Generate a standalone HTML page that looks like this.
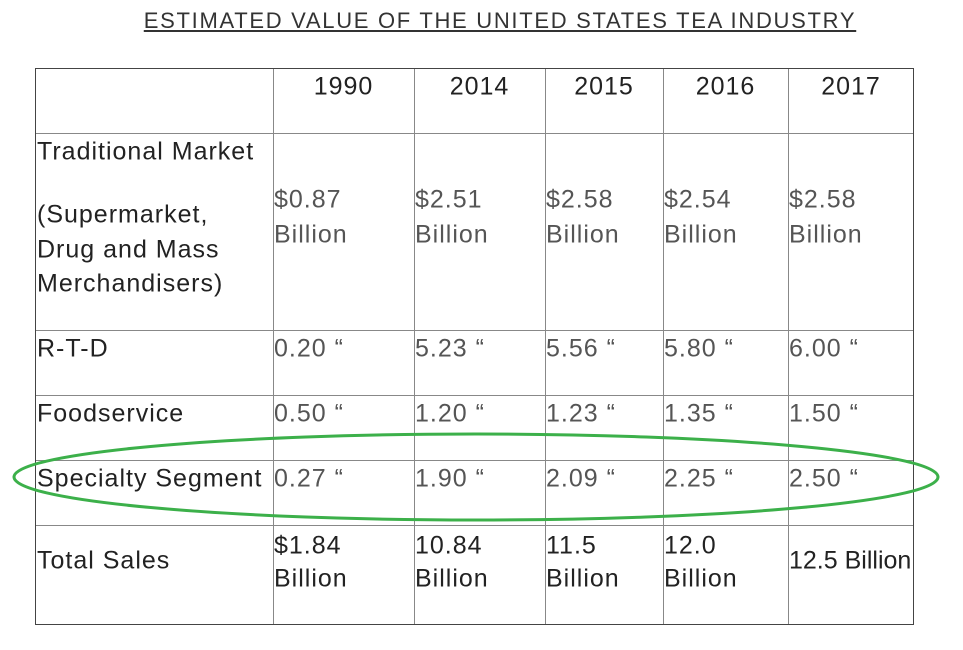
<!DOCTYPE html>
<html><head><meta charset="utf-8"><style>
body{margin:0;width:963px;height:650px;background:#fff;overflow:hidden;position:relative;font-family:"Liberation Sans",sans-serif}
.t{position:absolute;white-space:nowrap;transform:translateY(-50%);font-size:25px;letter-spacing:1px;color:#222;line-height:1}
.v{color:#555}
.b{color:#222}
</style></head><body>
<div class="t" style="left:0;width:1000px;text-align:center;top:21px;font-size:22px;letter-spacing:1.7px;text-decoration:underline;color:#333">ESTIMATED VALUE OF THE UNITED STATES TEA INDUSTRY</div>
<svg width="963" height="650" style="position:absolute;left:0;top:0">
<g stroke="#888" stroke-width="1">
<line x1="273.5" y1="68" x2="273.5" y2="624"/><line x1="414.5" y1="68" x2="414.5" y2="624"/>
<line x1="545.5" y1="68" x2="545.5" y2="624"/><line x1="663.5" y1="68" x2="663.5" y2="624"/>
<line x1="788.5" y1="68" x2="788.5" y2="624"/>
<line x1="35" y1="133.5" x2="914" y2="133.5"/><line x1="35" y1="330.5" x2="914" y2="330.5"/>
<line x1="35" y1="395.5" x2="914" y2="395.5"/><line x1="35" y1="460.5" x2="914" y2="460.5"/>
<line x1="35" y1="525.5" x2="914" y2="525.5"/>
</g>
<rect x="35.5" y="68.5" width="878" height="556" fill="none" stroke="#444" stroke-width="1"/>
<ellipse cx="476" cy="477" rx="462" ry="43" fill="none" stroke="#3cb04a" stroke-width="3"/>
</svg>
<div id="cells"></div>
<script>
const years=["1990","2014","2015","2016","2017"];
const colL=[273,414,545,663,788];
const colR=[414,545,663,788,914];
const trad=["$0.87","$2.51","$2.58","$2.54","$2.58"];
const rtd=["0.20 “","5.23 “","5.56 “","5.80 “","6.00 “"];
const food=["0.50 “","1.20 “","1.23 “","1.35 “","1.50 “"];
const spec=["0.27 “","1.90 “","2.09 “","2.25 “","2.50 “"];
const total=["$1.84","10.84","11.5","12.0"];
const c=document.getElementById('cells');
function add(txt,x,y,cls,name,extra){const d=document.createElement('div');d.className='t '+(cls||'');d.textContent=txt;d.style.left=x+'px';d.style.top=y+'px';if(extra)Object.assign(d.style,extra);


c.appendChild(d);}
years.forEach((y,i)=>add(y,colL[i],87,'b','year-header',{width:(colR[i]-colL[i])+'px',textAlign:'center'}));
[["Traditional Market",152],["(Supermarket,",215],["Drug and Mass",250],["Merchandisers)",284],["R-T-D",349],["Foodservice",414],["Specialty Segment",479],["Total Sales",561]].forEach(r=>add(r[0],37,r[1],'b','row-label'));
trad.forEach((v,i)=>{add(v,colL[i]+1,200,'v','traditional-value');add("Billion",colL[i]+1,235,'v','traditional-unit');});
rtd.forEach((v,i)=>add(v,colL[i]+1,349,'v','rtd-value'));
food.forEach((v,i)=>add(v,colL[i]+1,414,'v','foodservice-value'));
spec.forEach((v,i)=>add(v,colL[i]+1,479,'v','specialty-value'));
total.forEach((v,i)=>{add(v,colL[i]+1,546,'b','total-value');add("Billion",colL[i]+1,579,'b','total-unit');});
add("12.5 Billion",colL[4]+1,561,'b','total-value',{letterSpacing:'0px'});
</script>
</body></html>
